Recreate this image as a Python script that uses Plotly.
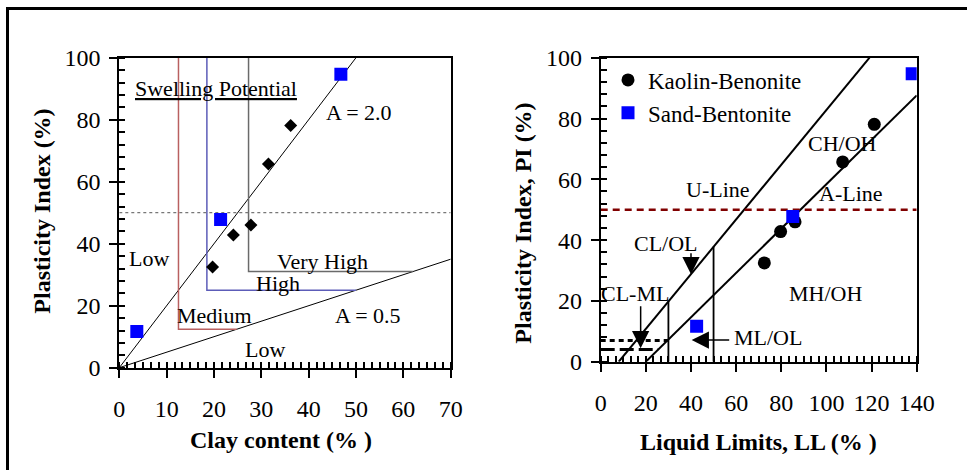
import plotly.graph_objects as go

# ---------------- data ----------------
KB_NAME = "Kaolin-Benonite"
SB_NAME = "Sand-Bentonite"
KB_CLAY = [19.7, 24.1, 27.8, 31.5, 36.2]
KB_LL = [72.5, 79.7, 86.1, 107.2, 121.2]
KB_PI = [32.5, 42.8, 46.0, 65.7, 78.1]
SB_CLAY = [3.7, 21.4, 46.8]
SB_LL = [42.5, 85.1, 138.0]
SB_PI = [11.7, 47.8, 94.7]

ACTIVITY = [2.0, 0.5]                    # A = PI / clay content
SWELL_CLAY = [12.5, 18.5, 27.3]          # vertical boundaries of swelling classes
SWELL_PI = [12.4, 25.0, 31.0]            # horizontal boundaries
SWELL_COLORS = ["#b96060", "#5c5cb8", "#6a6a6a"]
PI_HIGH = 50

U_LINE = [0.9, 8]                        # PI = 0.9 (LL - 8)
A_LINE = [0.73, 20]                      # PI = 0.73 (LL - 20)
LL_BOUNDS = [30, 50]
PI_CLML = [4, 7]

LEFT_XTICKS = [0, 10, 20, 30, 40, 50, 60, 70]
LEFT_YTICKS = [0, 20, 40, 60, 80, 100]
RIGHT_XTICKS = [0, 20, 40, 60, 80, 100, 120, 140]
RIGHT_YTICKS = [0, 20, 40, 60, 80, 100]

FONT = "Liberation Serif"
W, H = 967, 470

fig = go.Figure()

# ---------------- left plot ----------------
for a in ACTIVITY:
    xe = min(70, 100 / a)
    fig.add_trace(go.Scatter(x=[0, xe], y=[0, a * xe], mode="lines",
                             line=dict(color="black", width=1), showlegend=False,
                             hoverinfo="skip", xaxis="x", yaxis="y"))
for c, p, col in zip(SWELL_CLAY, SWELL_PI, SWELL_COLORS):
    fig.add_trace(go.Scatter(x=[c, c, p / ACTIVITY[1]], y=[100, p, p], mode="lines",
                             line=dict(color=col, width=1.5), showlegend=False,
                             hoverinfo="skip", xaxis="x", yaxis="y"))
fig.add_trace(go.Scatter(x=[0, 70], y=[PI_HIGH, PI_HIGH], mode="lines",
                         line=dict(color="#777777", width=1.3, dash="dot"),
                         showlegend=False, hoverinfo="skip", xaxis="x", yaxis="y"))
fig.add_trace(go.Scatter(x=KB_CLAY, y=KB_PI, mode="markers",
                         marker=dict(symbol="diamond", size=10, color="black"),
                         showlegend=False, xaxis="x", yaxis="y"))
fig.add_trace(go.Scatter(x=SB_CLAY, y=SB_PI, mode="markers",
                         marker=dict(symbol="square", size=13, color="#0000ff"),
                         showlegend=False, xaxis="x", yaxis="y"))

# ---------------- right plot ----------------
for slope, x0 in [U_LINE, A_LINE]:
    xe = min(140, x0 + 100 / slope)
    fig.add_trace(go.Scatter(x=[x0, xe], y=[0, slope * (xe - x0)], mode="lines",
                             line=dict(color="black", width=2), showlegend=False,
                             hoverinfo="skip", xaxis="x2", yaxis="y2"))
for ll in LL_BOUNDS:
    fig.add_trace(go.Scatter(x=[ll, ll], y=[0, U_LINE[0] * (ll - U_LINE[1])], mode="lines",
                             line=dict(color="black", width=1.8), showlegend=False,
                             hoverinfo="skip", xaxis="x2", yaxis="y2"))
for p, d in zip(PI_CLML, ["14px,5px", "5px,4px"]):
    fig.add_trace(go.Scatter(x=[0, A_LINE[1] + p / A_LINE[0]], y=[p, p], mode="lines",
                             line=dict(color="black", width=3, dash=d), showlegend=False,
                             hoverinfo="skip", xaxis="x2", yaxis="y2"))
fig.add_trace(go.Scatter(x=[0, 140], y=[PI_HIGH, PI_HIGH], mode="lines",
                         line=dict(color="#800000", width=2.5, dash="7px,5px"),
                         showlegend=False, hoverinfo="skip", xaxis="x2", yaxis="y2"))
fig.add_trace(go.Scatter(x=KB_LL, y=KB_PI, mode="markers", name=KB_NAME,
                         marker=dict(symbol="circle", size=13, color="black"),
                         xaxis="x2", yaxis="y2"))
fig.add_trace(go.Scatter(x=SB_LL, y=SB_PI, mode="markers", name=SB_NAME,
                         marker=dict(symbol="square", size=13, color="#0000ff"),
                         xaxis="x2", yaxis="y2"))

# ---------------- axes ----------------
def px_x(p):
    return p / W

def px_y(p):
    return 1 - p / H

axis_common = dict(
    showline=True, linewidth=2, linecolor="black", mirror=True,
    showgrid=False, zeroline=False, ticks="outside", ticklen=8, tickwidth=2,
    tickcolor="black", tickfont=dict(family=FONT, size=24, color="black"),
    automargin=False,
)

fig.update_layout(
    xaxis=dict(domain=[px_x(119.3), px_x(450.7)], range=[0, 70], tickvals=LEFT_XTICKS,
               anchor="y", ticklabelstandoff=10,
               minor=dict(dtick=10 / 6, ticks="inside", ticklen=6, tickwidth=1.5,
                          tickcolor="black", showgrid=False),
               **axis_common),
    yaxis=dict(domain=[px_y(367.7), px_y(57.7)], range=[0, 100], tickvals=LEFT_YTICKS,
               anchor="x", ticklabelstandoff=4,
               minor=dict(dtick=4, ticks="inside", ticklen=6, tickwidth=1.5,
                          tickcolor="black", showgrid=False),
               **axis_common),
    xaxis2=dict(domain=[px_x(600.7), px_x(916.7)], range=[0, 140], tickvals=RIGHT_XTICKS,
                anchor="y2", ticklabelstandoff=10,
                minor=dict(dtick=20 / 6, ticks="inside", ticklen=6, tickwidth=1.5,
                           tickcolor="black", showgrid=False),
                **axis_common),
    yaxis2=dict(domain=[px_y(361.7), px_y(57.7)], range=[0, 100], tickvals=RIGHT_YTICKS,
                anchor="x2", ticklabelstandoff=4,
                minor=dict(dtick=4, ticks="inside", ticklen=6, tickwidth=1.5,
                           tickcolor="black", showgrid=False),
                **axis_common),
)

# ---------------- annotations ----------------
ann = []
def txt(t, x, y, xr="x", yr="y", size=22, **kw):
    ann.append(dict(text=t, x=x, y=y, xref=xr, yref=yr, showarrow=False,
                    font=dict(family=FONT, size=size, color="black"), **kw))

txt("<u>Swelling Potential</u>", 2.9, 90.2, xanchor="left")
txt("A = 2.0", 50.6, 82.2)
txt("Low", 6.3, 35.1)
txt("Very High", 43.0, 34.4)
txt("High", 33.5, 27.3)
txt("Medium", 20.2, 17.0)
txt("A = 0.5", 52.5, 17.0)
txt("Low", 30.8, 6.0)

txt("CH/OH", 107.2, 71.8, "x2", "y2")
txt("U-Line", 51.8, 56.7, "x2", "y2")
txt("A-Line", 110.9, 55.4, "x2", "y2")
txt("CL/OL", 28.9, 38.9, "x2", "y2")
txt("CL-ML", 15.2, 22.5, "x2", "y2")
txt("MH/OH", 99.4, 22.5, "x2", "y2")
txt("ML/OL", 58.3, 8.0, "x2", "y2", xanchor="left")

for (tx, ty, hx, hy) in [(40, 36.2, 40, 28.8), (17.7, 18.7, 17.7, 4.4), (57.6, 7.1, 40.3, 7.1)]:
    ann.append(dict(text="", x=hx, y=hy, ax=tx, ay=ty, xref="x2", yref="y2",
                    axref="x2", ayref="y2", showarrow=True, arrowhead=2,
                    arrowsize=2.3, arrowwidth=1.5, arrowcolor="black", standoff=0))

tfont = dict(family=FONT, size=24, color="black")
def title(t, x, y, angle=0):
    ann.append(dict(text=t, x=px_x(x), y=px_y(y), xref="paper", yref="paper",
                    xanchor="center", yanchor="middle", showarrow=False,
                    textangle=angle, font=tfont))

title("<b>Plasticity Index (%)</b>", 41.7, 211, -90)
title("<b>Plasticity Index, PI (%)</b>", 522.7, 223, -90)
title("<b>Clay content (% )</b>", 281, 440)
title("<b>Liquid Limits, LL (% )</b>", 758, 441.7)

fig.update_layout(
    annotations=ann,
    shapes=[dict(type="rect", xref="paper", yref="paper", x0=px_x(7.5), y0=-0.1,
                 x1=1.1, y1=px_y(8.5), line=dict(color="black", width=3))],
    width=W, height=H, margin=dict(l=0, r=0, t=0, b=0, autoexpand=False),
    paper_bgcolor="white", plot_bgcolor="white",
    showlegend=True,
    legend=dict(x=px_x(608), y=px_y(58.5), xanchor="left", yanchor="top",
                bgcolor="rgba(0,0,0,0)", font=dict(family=FONT, size=23, color="black"),
                itemclick=False),
)

fig.write_html("out.html")
